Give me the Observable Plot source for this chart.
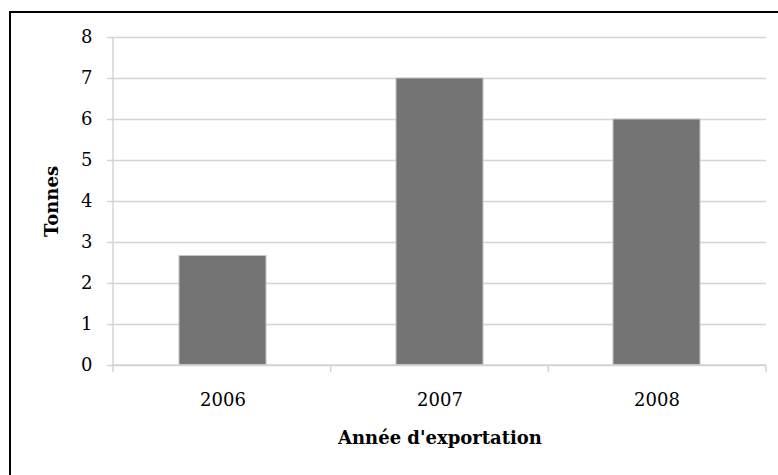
<!DOCTYPE html>
<html>
<head>
<meta charset="utf-8">
<script src="https://cdn.jsdelivr.net/npm/d3@7"></script>
<script src="https://cdn.jsdelivr.net/npm/@observablehq/plot@0.6"></script>
<style>
  html, body { margin: 0; padding: 0; background: #fff; overflow: hidden; }
  #wrap { position: relative; width: 778px; height: 475px; overflow: hidden; }
  #chart { position: absolute; left: 0; top: 0; }
  #border { position: absolute; left: 9px; top: 11px; width: 900px; height: 600px;
            border-left: 2.5px solid #000; border-top: 2.5px solid #000; pointer-events: none; }
</style>
</head>
<body>
<div id="wrap"><div id="chart"></div><div id="border"></div></div>
<script>
const years = ["2006", "2007", "2008"];
const tonnes = [2.67, 7, 6];
const yTicks = [0, 1, 2, 3, 4, 5, 6, 7, 8];
const xTitle = "Année d'exportation";
const yTitle = "Tonnes";

const data = years.map((y, i) => ({year: y, value: tonnes[i]}));
const font = "'DejaVu Serif', serif";
const lineColor = "#d4d4d4";

// axis lines + category boundary ticks drawn from the plot's dimensions
function axisFrame(index, scales, values, dims) {
  const ns = "http://www.w3.org/2000/svg";
  const g = document.createElementNS(ns, "g");
  const x0 = dims.marginLeft, x1 = dims.width - dims.marginRight;
  const y0 = dims.marginTop, y1 = dims.height - dims.marginBottom;
  const n = years.length, step = (x1 - x0) / n;
  const mk = (ax, ay, bx, by) => {
    const l = document.createElementNS(ns, "line");
    l.setAttribute("x1", ax); l.setAttribute("y1", ay);
    l.setAttribute("x2", bx); l.setAttribute("y2", by);
    l.setAttribute("stroke", lineColor); l.setAttribute("stroke-width", 1.5);
    g.appendChild(l);
  };
  mk(x0, y0, x0, y1 + 7);
  mk(x0, y1, x1, y1);
  for (let k = 1; k <= n; k++) mk(x0 + k * step, y1, x0 + k * step, y1 + 7);
  return g;
}

const plot = Plot.plot({
  width: 778,
  height: 475,
  marginLeft: 113,
  marginRight: 12,
  marginTop: 37,
  marginBottom: 110,
  style: {fontFamily: font, fontSize: "18px", color: "#000", background: "#fff"},
  x: {domain: years, paddingInner: 0.6, paddingOuter: 0.3, label: null},
  y: {domain: [0, 8], label: null},
  marks: [
    Plot.gridY(yTicks, {stroke: lineColor, strokeOpacity: 1, strokeWidth: 1.5}),
    Plot.axisY(yTicks, {tickSize: 6, stroke: lineColor, strokeWidth: 1.5, tickPadding: 15, fontSize: 18, label: null}),
    Plot.axisX({tickSize: 0, tickPadding: 28, fontSize: 18, label: null}),
    Plot.barY(data, {x: "year", y: "value", fill: "#747474", stroke: "#c4c4c4", strokeWidth: 1}),
    axisFrame,
    Plot.text([xTitle], {frameAnchor: "bottom", dy: 78, fontWeight: "bold", fontSize: 18, text: d => d}),
    Plot.text([yTitle], {frameAnchor: "left", dx: -61, rotate: -90, textAnchor: "middle", fontWeight: "bold", fontSize: 18, text: d => d})
  ]
});
document.getElementById("chart").appendChild(plot);
</script>
</body>
</html>
